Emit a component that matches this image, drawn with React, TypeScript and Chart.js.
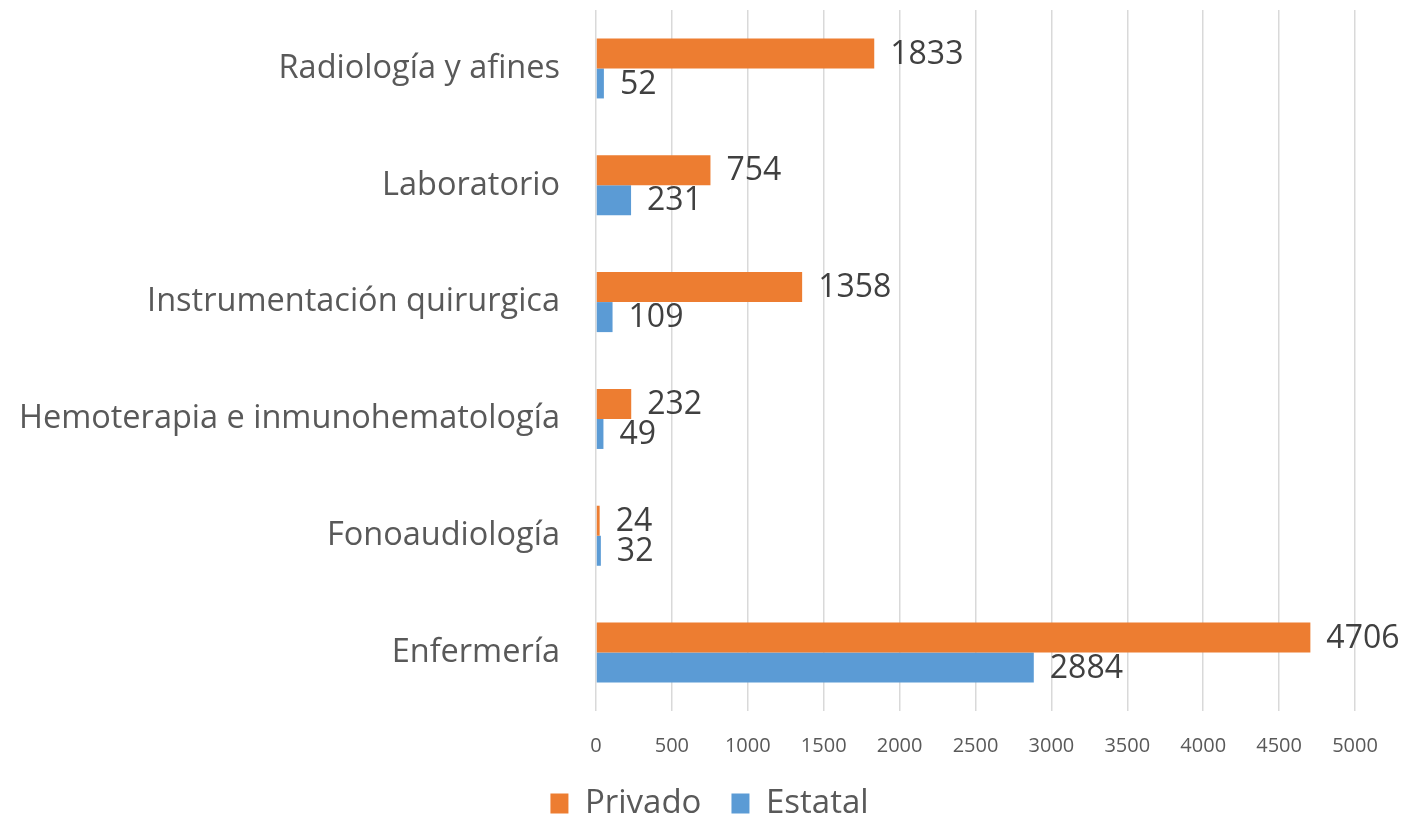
import React, { useEffect, useRef } from "react";
import { Chart, registerables } from "chart.js";

Chart.register(...registerables);

const categories = [
  "Radiología y afines",
  "Laboratorio",
  "Instrumentación quirurgica",
  "Hemoterapia e inmunohematología",
  "Fonoaudiología",
  "Enfermería",
];
const privado = [1833, 754, 1358, 232, 24, 4706];
const estatal = [52, 231, 109, 49, 32, 2884];
const xTicks = [0, 500, 1000, 1500, 2000, 2500, 3000, 3500, 4000, 4500, 5000];

const FONT = "'Open Sans', 'DejaVu Sans', sans-serif";

const valueLabels = {
  id: "valueLabels",
  afterDatasetsDraw(chart: any) {
    const ctx = chart.ctx;
    ctx.save();
    ctx.font = `32px ${FONT}`;
    ctx.fillStyle = "#404040";
    ctx.textAlign = "left";
    ctx.textBaseline = "middle";
    chart.data.datasets.forEach((ds: any, di: number) => {
      const meta = chart.getDatasetMeta(di);
      meta.data.forEach((bar: any, i: number) => {
        ctx.fillText(String(ds.data[i]), bar.x + 16, bar.y + 1);
      });
    });
    ctx.restore();
  },
};

const centerLegend = {
  id: "centerLegend",
  afterLayout(chart: any) {
    const lg = chart.legend;
    if (lg) {
      lg.left = 0;
      lg.right = chart.width;
      lg.width = chart.width;
    }
  },
};

export default function App() {
  const ref = useRef<HTMLCanvasElement | null>(null);
  useEffect(() => {
    document.body.style.margin = "0";
    const chart = new Chart(ref.current!, {
      type: "bar",
      data: {
        labels: categories,
        datasets: [
          { label: "Privado", data: privado, backgroundColor: "#ED7D31" },
          { label: "Estatal", data: estatal, backgroundColor: "#5B9BD5" },
        ],
      },
      options: {
        indexAxis: "y",
        animation: false,
        responsive: true,
        maintainAspectRatio: false,
        layout: { padding: { left: 0, right: 64, top: 10, bottom: -13 } },
        datasets: { bar: { categoryPercentage: 0.514, barPercentage: 1 } },
        scales: {
          x: {
            min: 0,
            max: 5000,
            afterBuildTicks: (s: any) => {
              s.ticks = xTicks.map((v) => ({ value: v }));
            },
            afterFit: (s: any) => {
              s.height = 46;
            },
            grid: { color: "#D9D9D9", lineWidth: 1.5, drawTicks: false },
            border: { display: false },
            ticks: {
              padding: 23,
              color: "#595959",
              font: { family: FONT, size: 20 },
              callback: (v: any) => String(v),
            },
          },
          y: {
            afterFit: (s: any) => {
              s.width = 596;
              s.paddingTop = 0;
              s.paddingBottom = 0;
            },
            grid: { display: false },
            border: { display: false },
            ticks: {
              padding: 28,
              color: "#595959",
              font: { family: FONT, size: 32.5 },
            },
          },
        },
        plugins: {
          legend: {
            position: "bottom",
            labels: {
              boxWidth: 18,
              boxHeight: 20,
              padding: 30,
              color: "#595959",
              font: { family: FONT, size: 33 },
            },
          },
          tooltip: { enabled: false },
        },
      },
      plugins: [valueLabels, centerLegend],
    });
    return () => chart.destroy();
  }, []);
  return (
    <div style={{ width: 1419, height: 817, position: "relative" }}>
      <canvas ref={ref} />
    </div>
  );
}
